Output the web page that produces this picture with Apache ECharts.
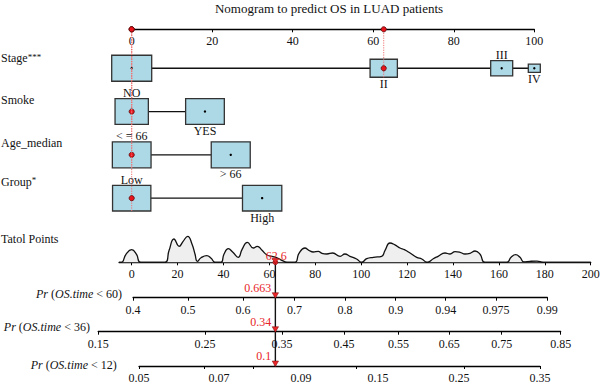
<!DOCTYPE html>
<html><head><meta charset="utf-8">
<script src="https://cdn.jsdelivr.net/npm/echarts@6/dist/echarts.min.js"></script>
<style>html,body{margin:0;padding:0;background:#fff}#c{width:600px;height:387px}</style>
</head><body><div id="c"></div>
<script>
// ---------------- data ----------------
const chartTitle = 'Nomogram to predict OS in LUAD patients';
const factorNames = ['Stage', 'Smoke', 'Age_median', 'Group'];
const factorStars = ['***', '', '', '*'];
const stageLevels = ['I', 'II', 'III', 'IV'];
const stagePoints = [0, 62.6, 91.9, 100];
const smokeLevels = ['NO', 'YES'];
const smokePoints = [0, 18.2];
const ageLevels = ['< = 66', '> 66'];
const agePoints = [0, 24.6];
const groupLevels = ['Low', 'High'];
const groupPoints = [0, 32.4];
const selectedLevel = [1, 0, 0, 0]; // Stage II, Smoke NO, Age <= 66, Group Low
const pointTicks = [0, 20, 40, 60, 80, 100];
const totalTicks = [0, 20, 40, 60, 80, 100, 120, 140, 160, 180, 200];
const totalMin = -5.5, totalMax = 200;
const densityPoints = [-5.5, -4.4, -2.5, 0, 2.1, 3.9, 14.5, 16.3, 18.4, 20.7, 22.4, 24.4, 26.3, 27.6, 28.6, 30.2, 32.7, 34.6, 36.3, 38.9, 40.2, 42.1, 44.1, 46.4, 48.1, 50.4, 53.0, 54.7, 56.8, 58.8, 61.1, 63.7, 65.9, 67.7, 71.2, 72.9, 75.5, 77.2, 79.1, 81.3, 82.9, 85.0, 87.6, 90.8, 92.9, 95.1, 98.0, 100.2, 102.4, 105.3, 108.9, 110.4, 112.5, 114.7, 116.9, 118.8, 121.3, 124.2, 126.4, 128.8, 131.4, 133.5, 136.5, 138.7, 140.9, 143.1, 145.2, 147.4, 149.6, 151.8, 153.9, 163.4, 165.3, 167.3, 169.2, 170.9, 173.6, 176.6, 179.3, 200];
const densityValues = [0, 0, 8, 12.6, 8, 0, 0, 12, 23.3, 16, 21, 26, 18, 8, 1, 4.5, 6.6, 4, 0, 0, 8, 13.6, 10, 5, 13, 20, 14.3, 16, 12, 7.6, 6, 4, 1.5, 0, 0, 9, 14.3, 12, 10.3, 11, 9, 8.3, 9.3, 6, 8.3, 6, 3.3, 0, 3.6, 5, 6, 12, 19.3, 17.5, 14.3, 12.6, 9.3, 5, 3.3, 0, 3.6, 6, 9.3, 8.3, 10.7, 10, 8.3, 9, 11.3, 8, 0, 0, 5, 7.6, 5, 0.5, 1, 1.2, 0, 0];
const pr60Labels = ['0.4', '0.5', '0.6', '0.7', '0.8', '0.9', '0.94', '0.975', '0.99'];
const pr60Pos = [0.6, 24.5, 48.5, 70.9, 92.9, 115.0, 136.8, 158.7, 181.1];
const pr36Labels = ['0.15', '0.25', '0.35', '0.45', '0.55', '0.65', '0.75', '0.85'];
const pr36Pos = [-14.6, 31.9, 65.5, 92.5, 116.2, 138.4, 161.2, 186.9];
const pr12Labels = ['0.05', '0.07', '0.09', '0.15', '0.25', '0.35'];
const pr12LabelPos = [3.2, 38.0, 73.8, 107.3, 142.6, 177.9];
const pr12TickPos = [3.2, 31.5, 52.9, 97.8, 144.8, 177.9];
const prTimes = ['60', '36', '12'];
const predictedProb = [0.663, 0.34, 0.1];

// ---------------- style / layout ----------------
const FF = '"Liberation Serif", "DejaVu Serif", serif';
const RED = '#e8262a';
const boxSizes = [
  [[40, 26], [27.3, 18], [22, 15.3], [12, 8.3]],
  [[33.3, 25.7], [38.7, 25.7]],
  [[38.7, 26], [39, 26]],
  [[38.3, 25.7], [39.3, 25.7]]
];
const labelSide = [[null, 'below', 'above', 'below'], ['above', 'below'], ['above', 'below'], ['above', 'below']];
const X0 = 131.7, SC = 2.295;          // total-points pixel mapping
const TOTAL_Y = 262.3, PR_Y = [297.7, 331.7, 366];

const levels = [stageLevels, smokeLevels, ageLevels, groupLevels];
const points = [stagePoints, smokePoints, agePoints, groupPoints];
const totalPoints = points.reduce((s, p, f) => s + p[selectedLevel[f]], 0);

const boxData = [], boxMeta = [], rowLines = [];
levels.forEach((lv, f) => {
  rowLines.push([Math.min(...points[f]), Math.max(...points[f]), f]);
  lv.forEach((name, j) => {
    boxData.push([points[f][j], f]);
    boxMeta.push({ w: boxSizes[f][j][0], h: boxSizes[f][j][1], label: name, side: labelSide[f][j], sel: selectedLevel[f] === j });
  });
});

function nearestIdx(arr, v) {
  let b = 0; arr.forEach((a, i) => { if (Math.abs(a - v) < Math.abs(arr[b] - v)) b = i; }); return b;
}
function gridFor(min, max, axisY) {
  return { left: X0 + min * SC, width: (max - min) * SC, top: axisY - 10, height: 10, outerBoundsMode: 'none', containLabel: false };
}
const lbl = { fontFamily: FF, fontSize: 12, color: '#111' };

function probAxis(gi, labels, labelPos, tickPos, time, gap, up) {
  return {
    type: 'value', gridIndex: gi, min: tickPos[0], max: tickPos[tickPos.length - 1], position: 'bottom',
    axisLine: { show: true, onZero: false, lineStyle: { color: '#000', width: 1.3 } },
    axisTick: { show: true, length: 3, customValues: tickPos, lineStyle: { color: '#000', width: 1 } },
    axisLabel: Object.assign({ show: true, customValues: labelPos, margin: 6, hideOverlap: false,
      formatter: v => labels[nearestIdx(labelPos, v)] }, lbl),
    splitLine: { show: false },
    name: '{it|Pr} ({it|OS.time} < ' + time + ')', nameLocation: 'start', nameGap: gap,
    nameTextStyle: Object.assign({ padding: [0, 0, up * 2, 0], rich: { it: { fontStyle: 'italic', fontFamily: FF, fontSize: 12, color: '#111' } } }, lbl)
  };
}

const chart = echarts.init(document.getElementById('c'), null, { renderer: 'svg' });
chart.setOption({
  animation: false,
  backgroundColor: '#fff',
  grid: [
    { left: 131.7, width: 402.6, top: 29.3, height: 190.5, outerBoundsMode: 'none', containLabel: false },
    { left: X0 + totalMin * SC, width: (totalMax - totalMin) * SC, top: TOTAL_Y - 30, height: 30, outerBoundsMode: 'none', containLabel: false },
    gridFor(pr60Pos[0], pr60Pos[pr60Pos.length - 1], PR_Y[0]),
    gridFor(pr36Pos[0], pr36Pos[pr36Pos.length - 1], PR_Y[1]),
    gridFor(pr12TickPos[0], pr12TickPos[pr12TickPos.length - 1], PR_Y[2])
  ],
  xAxis: [
    { type: 'value', gridIndex: 0, min: 0, max: 100, interval: 20, position: 'top',
      axisLine: { show: true, onZero: false, lineStyle: { color: '#000', width: 1.3 } },
      axisTick: { show: true, inside: true, length: 3, customValues: pointTicks, lineStyle: { color: '#000' } },
      axisLabel: Object.assign({ inside: true, margin: 6, customValues: pointTicks }, lbl),
      splitLine: { show: false } },
    { type: 'value', gridIndex: 1, min: totalMin, max: totalMax, position: 'bottom',
      axisLine: { show: true, onZero: false, lineStyle: { color: '#000', width: 1.3 } },
      axisTick: { show: true, length: 3, customValues: totalTicks, lineStyle: { color: '#000' } },
      axisLabel: Object.assign({ margin: 6, customValues: totalTicks, hideOverlap: false }, lbl),
      splitLine: { show: false } },
    probAxis(2, pr60Labels, pr60Pos, pr60Pos, prTimes[0], 11, 3.7),
    probAxis(3, pr36Labels, pr36Pos, pr36Pos, prTimes[1], 8.3, 4.4),
    probAxis(4, pr12Labels, pr12LabelPos, pr12TickPos, prTimes[2], 22.3, 1)
  ],
  yAxis: [
    { type: 'value', gridIndex: 0, min: -0.9, max: 3.5, inverse: true, show: false },
    { type: 'value', gridIndex: 1, min: 0, max: 30, show: false },
    { type: 'value', gridIndex: 2, min: 0, max: 1, show: false },
    { type: 'value', gridIndex: 3, min: 0, max: 1, show: false },
    { type: 'value', gridIndex: 4, min: 0, max: 1, show: false }
  ],
  graphic: { elements: [
    { type: 'text', x: 329, y: 8, style: { text: chartTitle, align: 'center', verticalAlign: 'middle', font: '13px ' + FF, fill: '#111' } },
    ...factorNames.map((n, f) => ({ type: 'text', x: 1, y: [58.3, 100, 142.7, 181.7][f],
      style: { text: '{n|' + n + '}' + (factorStars[f] ? '{s|' + factorStars[f] + '}' : ''), align: 'left', verticalAlign: 'middle',
        rich: { n: { fontFamily: FF, fontSize: 12, fill: '#111', color: '#111' }, s: { fontFamily: FF, fontSize: 9, color: '#111', fill: '#111', verticalAlign: 'top' } } } })),
    { type: 'text', x: 1, y: 239, style: { text: 'Tatol Points', align: 'left', verticalAlign: 'middle', font: '12px ' + FF, fill: '#111' } }
  ] },
  series: [
    { type: 'custom', xAxisIndex: 0, yAxisIndex: 0, data: rowLines, z: 2,
      renderItem: (p, api) => {
        const a = api.coord([api.value(0), api.value(2)]), b = api.coord([api.value(1), api.value(2)]);
        return { type: 'line', shape: { x1: a[0], y1: a[1], x2: b[0], y2: b[1] }, style: { stroke: '#111', lineWidth: 1.3 } };
      } },
    { type: 'custom', xAxisIndex: 0, yAxisIndex: 0, data: boxData, z: 3, clip: false,
      renderItem: (params, api) => {
        const m = boxMeta[params.dataIndex];
        const c = api.coord([api.value(0), api.value(1)]);
        const ch = [{ type: 'rect', shape: { x: c[0] - m.w / 2, y: c[1] - m.h / 2, width: m.w, height: m.h }, style: { fill: '#ADD8E6', stroke: '#333', lineWidth: 1.3 } }];
        if (m.sel) {
          const t = api.coord([api.value(0), -0.9]);
          ch.push({ type: 'line', shape: { x1: c[0], y1: c[1] + m.h / 2, x2: t[0], y2: t[1] }, style: { stroke: '#ef7474', lineWidth: 1, lineDash: [1.2, 1.2] } });
          ch.push({ type: 'circle', shape: { cx: t[0], cy: t[1], r: 2.6 }, style: { fill: '#e8141b', stroke: '#5c0a0a', lineWidth: 0.8 } });
          ch.push({ type: 'circle', shape: { cx: c[0], cy: c[1], r: 2.6 }, style: { fill: '#e8141b', stroke: '#5c0a0a', lineWidth: 0.8 } });
        } else {
          ch.push({ type: 'circle', shape: { cx: c[0], cy: c[1], r: 1.2 }, style: { fill: '#000' } });
        }
        if (m.side) ch.push({ type: 'text', x: c[0], y: m.side === 'above' ? c[1] - m.h / 2 - 5.5 : c[1] + m.h / 2 + 6.5,
          style: { text: m.label, align: 'center', verticalAlign: 'middle', font: '12px ' + FF, fill: '#111' } });
        return { type: 'group', children: ch };
      } },
    { type: 'line', xAxisIndex: 1, yAxisIndex: 1, data: densityPoints.map((x, i) => [x, densityValues[i]]),
      smooth: 0.5, symbol: 'none', clip: true, z: 2,
      lineStyle: { color: '#111', width: 1.3 }, areaStyle: { color: '#efefef', opacity: 1 } },
    { type: 'custom', xAxisIndex: 1, yAxisIndex: 1, data: [[totalPoints, 0]], z: 5, clip: false,
      renderItem: (params, api) => {
        const c = api.coord([api.value(0), 0]);
        const x = c[0];
        const ch = [{ type: 'line', shape: { x1: x, y1: c[1], x2: x, y2: PR_Y[2] }, style: { stroke: '#111', lineWidth: 1.4 } }];
        const tri = y => ({ type: 'polygon', shape: { points: [[x - 3.2, y - 5], [x + 3.2, y - 5], [x, y + 0.5]] }, style: { fill: RED, stroke: '#7a0a0a', lineWidth: 0.5 } });
        ch.push({ type: 'circle', shape: { cx: x, cy: c[1], r: 2.4 }, style: { fill: RED, stroke: '#7a0a0a', lineWidth: 0.6 } });
        ch.push(tri(c[1] + 1));
        ch.push({ type: 'text', x: x + 1, y: c[1] - 6.5, style: { text: String(Math.round(api.value(0) * 10) / 10), align: 'center', verticalAlign: 'middle', font: '12px ' + FF, fill: RED } });
        PR_Y.forEach((y, k) => {
          ch.push(tri(y));
          ch.push({ type: 'text', x: x - 4, y: y - 9.6, style: { text: String(predictedProb[k]), align: 'right', verticalAlign: 'middle', font: '12px ' + FF, fill: RED } });
        });
        return { type: 'group', children: ch };
      } }
  ]
});
</script></body></html>
